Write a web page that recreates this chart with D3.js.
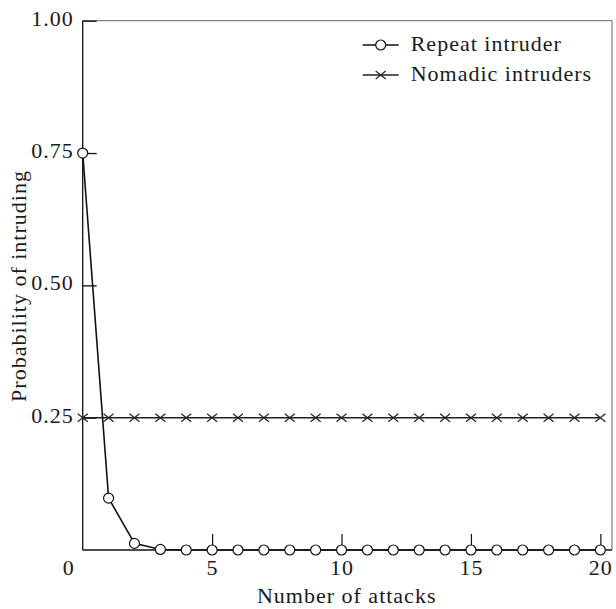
<!DOCTYPE html>
<html>
<head>
<meta charset="utf-8">
<script src="https://cdn.jsdelivr.net/npm/d3@7"></script>
<style>
  body { margin: 0; background: #fff; }
  text { font-family: "Liberation Serif", "Times New Roman", serif; font-size: 22px; letter-spacing: 1px; fill: #1a1a1a; }
</style>
</head>
<body>
<div id="chart-area"></div>
<script>
// data
var attacks = [0, 1, 2, 3, 4, 5, 6, 7, 8, 9, 10, 11, 12, 13, 14, 15, 16, 17, 18, 19, 20];
var repeatIntruder = [0.75, 0.098, 0.0125, 0.001, 0, 0, 0, 0, 0, 0, 0, 0, 0, 0, 0, 0, 0, 0, 0, 0, 0];
var nomadicIntruders = [0.25, 0.25, 0.25, 0.25, 0.25, 0.25, 0.25, 0.25, 0.25, 0.25, 0.25, 0.25, 0.25, 0.25, 0.25, 0.25, 0.25, 0.25, 0.25, 0.25, 0.25];
var xTicks = [5, 10, 15, 20];
var yTicks = [0.25, 0.5, 0.75, 1.0];
var seriesNames = ["Repeat intruder", "Nomadic intruders"];

var W = 616, H = 609;
var margin = { left: 82.7, right: 4, top: 20.7, bottom: 59 };
var width = W - margin.left - margin.right,
  height = H - margin.top - margin.bottom;

var svg = d3.select("#chart-area")
  .append("svg")
  .attr("width", W)
  .attr("height", H);

var g = svg.append("g")
  .attr("transform", "translate(" + margin.left + "," + margin.top + ")");

// scales
var x = d3.scaleLinear().domain([0, 20.45]).range([0, width]);
var y = d3.scaleLinear().domain([0, 1]).range([height, 0]);

// top + right frame (grey)
g.append("path")
  .attr("d", "M0,0H" + width + "V" + height)
  .attr("fill", "none")
  .attr("stroke", "#666")
  .attr("stroke-width", 1);

// y axis, ticks point inward
var yAxis = d3.axisRight(y).tickValues(yTicks).tickSize(14).tickFormat("");
g.append("g").attr("class", "y axis").call(yAxis)
  .call(function(a) {
    a.select(".domain").remove();
    a.selectAll("line").attr("stroke", "#111").attr("stroke-width", 1.3);
  });
g.append("line")
  .attr("x1", 0).attr("x2", 0).attr("y1", 0).attr("y2", height)
  .attr("stroke", "#111").attr("stroke-width", 1.3);

// y tick labels
g.selectAll(".ylab")
  .data(yTicks)
  .enter()
  .append("text")
  .attr("class", "ylab")
  .attr("x", -9)
  .attr("y", function(d) { return y(d) + 5; })
  .attr("text-anchor", "end")
  .text(d3.format(".2f"));

// x axis, ticks point up
var xAxis = d3.axisTop(x).tickValues(xTicks).tickSize(16).tickFormat("");
g.append("g").attr("class", "x axis")
  .attr("transform", "translate(0," + height + ")")
  .call(xAxis)
  .call(function(a) {
    a.select(".domain").remove();
    a.selectAll("line").attr("stroke", "#111").attr("stroke-width", 1.2);
  });
g.append("line")
  .attr("x1", 0).attr("x2", width).attr("y1", height).attr("y2", height)
  .attr("stroke", "#111").attr("stroke-width", 1.3);

g.selectAll(".xlab")
  .data(xTicks)
  .enter()
  .append("text")
  .attr("class", "xlab")
  .attr("x", function(d) { return x(d) + 0.5; })
  .attr("y", height + 25)
  .attr("text-anchor", "middle")
  .text(function(d) { return d; });

// corner zero
g.append("text")
  .attr("x", -14)
  .attr("y", height + 25)
  .attr("text-anchor", "middle")
  .text("0");

// axis titles
g.append("text")
  .attr("x", 264)
  .attr("y", height + 53)
  .attr("text-anchor", "middle")
  .text("Number of attacks");

g.append("text")
  .attr("transform", "translate(" + (26 - margin.left) + "," + (286 - margin.top) + ") rotate(-90)")
  .attr("text-anchor", "middle")
  .text("Probability of intruding");

// lines
var line = d3.line()
  .x(function(d, i) { return x(attacks[i]); })
  .y(function(d) { return y(d); });

g.append("path")
  .datum(nomadicIntruders)
  .attr("d", line)
  .attr("fill", "none")
  .attr("stroke", "#222")
  .attr("stroke-width", 1.6);

g.append("path")
  .datum(repeatIntruder)
  .attr("d", line)
  .attr("fill", "none")
  .attr("stroke", "#111")
  .attr("stroke-width", 1.6);

// cross markers
function cross(sel) {
  sel.attr("d", "M-5,-4L5,4M-5,4L5,-4")
    .attr("stroke", "#222")
    .attr("stroke-width", 1.2)
    .attr("fill", "none");
}

g.selectAll(".xmark")
  .data(nomadicIntruders)
  .enter()
  .append("path")
  .attr("class", "xmark")
  .attr("transform", function(d, i) { return "translate(" + x(attacks[i]) + "," + y(d) + ")"; })
  .call(cross);

g.selectAll(".omark")
  .data(repeatIntruder)
  .enter()
  .append("circle")
  .attr("class", "omark")
  .attr("cx", function(d, i) { return x(attacks[i]); })
  .attr("cy", function(d) { return y(d); })
  .attr("r", 5)
  .attr("fill", "#fff")
  .attr("stroke", "#111")
  .attr("stroke-width", 1.2);

// legend
var legend = svg.append("g").attr("transform", "translate(362.7,45)");
var rowGap = 30;

legend.append("line")
  .attr("x1", 0).attr("x2", 36).attr("y1", 0).attr("y2", 0)
  .attr("stroke", "#111").attr("stroke-width", 1.6);
legend.append("circle")
  .attr("cx", 18).attr("cy", 0).attr("r", 5)
  .attr("fill", "#fff").attr("stroke", "#111").attr("stroke-width", 1.2);

legend.append("line")
  .attr("x1", 0).attr("x2", 36).attr("y1", rowGap).attr("y2", rowGap)
  .attr("stroke", "#222").attr("stroke-width", 1.6);
legend.append("path")
  .attr("transform", "translate(18," + rowGap + ")")
  .call(cross);

legend.selectAll(".legtext")
  .data(seriesNames)
  .enter()
  .append("text")
  .attr("class", "legtext")
  .attr("x", 48)
  .attr("y", function(d, i) { return i * rowGap + 6; })
  .text(function(d) { return d; });
</script>
</body>
</html>
